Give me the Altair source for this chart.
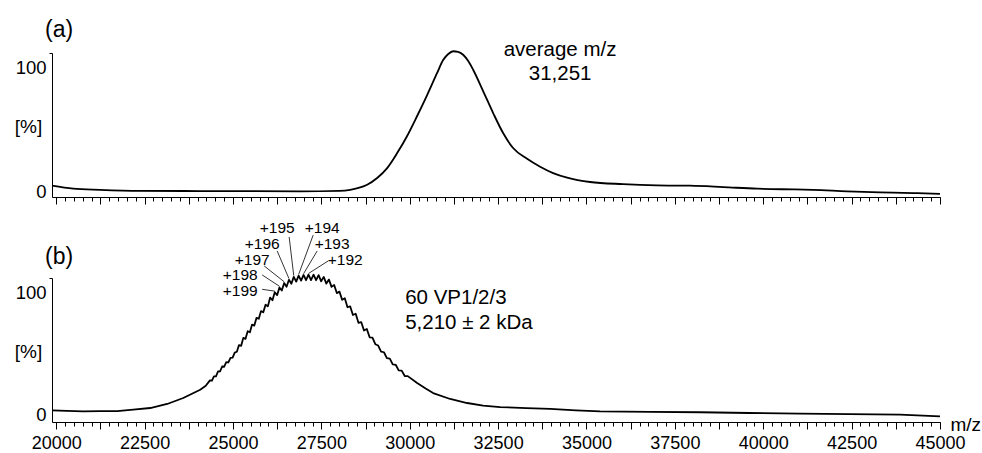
import altair as alt
import pandas as pd

FONT = "Liberation Sans"

# ---------------- panel (a): average m/z spectrum ----------------
A_MZ = [19880, 20480, 21240, 22380, 24070, 26900, 28000, 28314, 28550, 28795,
        29078, 29361, 29644, 29926, 30209, 30492, 30775, 30944, 31090, 31227,
        31370, 31510, 31650, 31793, 32076, 32359, 32641, 32924, 33320, 33688,
        34056, 34452, 35102, 36035, 36997, 37930, 38863, 39825, 40843, 41408,
        42370, 43303, 44236, 45000]
A_INT = [4.3, 1.9, 1.0, 0.2, 0.0, -0.2, 0.2, 1.0, 2.5, 5.1,
         10.5, 18.5, 30.6, 44.4, 60.5, 77.4, 95.2, 105.6, 110.5, 112.7,
         112.3, 109.9, 105.0, 97.8, 80.6, 62.9, 46.8, 34.7, 26.0, 19.6,
         14.5, 10.8, 7.3, 5.6, 4.6, 4.3, 3.2, 1.9, 1.3, 1.0,
         -0.2, -1.0, -1.6, -2.2]

# ---------------- panel (b): charge-state resolved spectrum ----------------
B_MZ = [19880, 20300, 20764, 21240, 21725, 22178, 22658, 23139, 23592, 24072, 24230,
        24347, 24404, 24461, 24518, 24576, 24634, 24693, 24751, 24810, 24869,
        24929, 24989, 25049, 25109, 25170, 25231, 25292, 25354, 25416, 25478,
        25540, 25603, 25666, 25729, 25793, 25857, 25921, 25986, 26051, 26116,
        26182, 26248, 26314, 26381, 26448, 26515, 26583, 26651, 26719, 26788,
        26857, 26926, 26996, 27066, 27136, 27207, 27279, 27350, 27422, 27494,
        27567, 27640, 27714, 27788, 27862, 27937, 28012, 28087, 28163, 28239,
        28316, 28393, 28471, 28549, 28627, 28706, 28786, 28865, 28945, 29026,
        29107, 29189, 29271, 29353, 29436, 29519, 29603, 29687, 29772, 29858,
        29944, 30209, 30450, 30662, 31143, 31623, 32076, 32557, 33300, 33971,
        34700, 35385, 36800, 38213, 39600, 41041, 42450, 43869, 45000]
B_INT = [3.6, 3.1, 2.8, 3.0, 3.0, 4.1, 5.5, 8.8, 13.7, 20.5, 23.8,
         28.2, 27.9, 31.5, 31.5, 35.5, 35.6, 39.6, 39.4, 43.1, 42.9,
         46.7, 46.9, 51.0, 51.7, 57.2, 56.6, 63.1, 62.3, 68.6, 67.7,
         74.0, 73.2, 79.6, 78.8, 85.1, 84.1, 90.3, 89.0, 96.2, 94.0,
         100.6, 98.2, 104.5, 102.0, 108.2, 105.1, 110.8, 107.6, 113.2, 109.3,
         114.2, 110.1, 114.8, 110.5, 115.0, 110.6, 115.0, 110.5, 114.7, 109.6,
         113.2, 107.7, 111.0, 105.0, 106.6, 99.9, 101.1, 94.4, 95.7, 88.3,
         88.9, 81.9, 82.9, 75.5, 76.1, 69.2, 70.4, 63.6, 63.4, 57.9,
         56.8, 51.9, 51.3, 46.5, 46.1, 41.4, 41.0, 36.4, 36.2, 31.8,
         31.7, 26.0, 21.5, 17.8, 12.9, 9.6, 7.4, 6.3, 5.4, 4.7,
         3.6, 2.8, 2.4, 2.0, 1.4, 0.8, 0.4, 0.0, -1.3]

# charge-state annotations
CHARGES = ["+199", "+198", "+197", "+196", "+195", "+194", "+193", "+192"]
CH_PEAK_MZ = [26182, 26314, 26448, 26583, 26719, 26857, 26996, 27136]
CH_PEAK_INT = [101.5, 105.5, 109.2, 111.8, 114.2, 115.2, 115.8, 116.0]
CH_LEAD_MZ = [25826, 25826, 25882, 26250, 26589, 27268, 27381, 27692]
CH_LEAD_INT = [103.0, 114.8, 122.2, 134.5, 146.0, 147.5, 134.5, 126.3]
CH_LABEL_MZ = [25204, 25204, 25543, 25826, 26250, 27523, 27805, 28173]
CH_LABEL_INT = [102.0, 114.5, 127.2, 140.2, 153.2, 153.2, 140.2, 127.2]

NOTE_A = ["average m/z", "31,251"]
NOTE_A_MZ = [34253, 34253]
NOTE_A_INT = [113.7, 94.4]
NOTE_B = ["60 VP1/2/3", "5,210 ± 2 kDa"]
NOTE_B_MZ = [29870, 29870]
NOTE_B_INT = [95.9, 75.3]

MINOR_TICKS = list(range(20000, 45001, 250))
MAJOR_TICKS = list(range(20000, 45001, 1250))
X_DOMAIN = [19880, 45000]
YA_DOMAIN = [-4.8, 111.3]
YB_DOMAIN = [-6.0, 112.3]

xs = alt.Scale(domain=X_DOMAIN, nice=False, zero=False)


def x_minor_axis():
    return alt.Axis(values=MINOR_TICKS, tickSize=4, labels=False, domain=True,
                    title=None, orient="bottom", grid=False, tickColor="black",
                    domainColor="black", tickWidth=1, domainWidth=1)


def x_major_axis(show):
    kw = dict(values=MAJOR_TICKS, tickSize=7, labels=show, domain=False,
              orient="bottom", grid=False, tickColor="black", tickWidth=1,
              format="d", labelExpr="datum.value % 2500 === 0 ? datum.label : ''",
              labelFontSize=18, labelPadding=5, labelFlush=False,
              labelOverlap=False, labelColor="black")
    if show:
        kw.update(title="m/z", titleX=898, titleY=2, titleAlign="left",
                  titleBaseline="middle", titleFontSize=19,
                  titleFontWeight="normal", titleColor="black")
    else:
        kw.update(title=None)
    return alt.Axis(**kw)


def y_axis(ymax, title_y):
    return alt.Axis(values=[0, 100, ymax],
                    labelExpr="datum.value > 105 ? '' : datum.label",
                    tickSize=3,
                    tickOpacity={"condition": {"test": "datum.value > 105", "value": 1}, "value": 0},
                    labelPadding=3, labelFontSize=18.5, labelColor="black",
                    labelOverlap=False, labelFlush=False,
                    domainColor="black", tickColor="black", grid=False,
                    title="[%]", titleAngle=0, titleX=-24, titleY=title_y,
                    titleAlign="center", titleBaseline="middle", titleFontSize=19,
                    titleFontWeight="normal", titleColor="black")


def panel(mz, inten, ydom, title_y, notes, notes_align, show_labels, letter, letter_y,
          interp="linear", extra=None):
    Y = alt.Y("int:Q", scale=alt.Scale(domain=ydom, nice=False, zero=False),
              axis=y_axis(ydom[1], title_y))
    curve = alt.Chart(pd.DataFrame({"mz": mz, "int": inten})).mark_line(
        color="black", strokeWidth=1.8, strokeJoin="round", interpolate=interp
    ).encode(x=alt.X("mz:Q", scale=xs, axis=x_minor_axis()), y=Y)
    notes_df = pd.DataFrame({"mz": notes[1], "int": notes[2], "t": notes[0]})
    note_layer = alt.Chart(notes_df).mark_text(
        align=notes_align, baseline="middle", fontSize=20.5, color="black"
    ).encode(x=alt.X("mz:Q", scale=xs, axis=x_major_axis(show_labels)), y=Y, text="t:N")
    letter_layer = alt.Chart(pd.DataFrame({"t": [letter]})).mark_text(
        align="left", baseline="middle", fontSize=23, color="black"
    ).encode(x=alt.value(-7), y=alt.value(letter_y), text="t:N")
    layers = [curve, note_layer, letter_layer]
    if extra is not None:
        layers += extra(Y)
    return alt.layer(*layers).resolve_axis(x="independent").properties(width=888, height=144)


def charge_layers(Y):
    lead = pd.DataFrame({"mz": CH_PEAK_MZ, "int": CH_PEAK_INT,
                         "mz2": CH_LEAD_MZ, "int2": CH_LEAD_INT})
    rules = alt.Chart(lead).mark_rule(color="black", strokeWidth=0.8).encode(
        x=alt.X("mz:Q", scale=xs, axis=None), y=Y, x2="mz2:Q", y2="int2:Q")
    lab = pd.DataFrame({"mz": CH_LABEL_MZ, "int": CH_LABEL_INT, "t": CHARGES})
    texts = alt.Chart(lab).mark_text(align="center", baseline="middle", fontSize=15.5,
                                     color="black").encode(
        x=alt.X("mz:Q", scale=xs, axis=None), y=Y, text="t:N")
    return [rules, texts]


top = panel(A_MZ, A_INT, YA_DOMAIN, 73, (NOTE_A, NOTE_A_MZ, NOTE_A_INT), "center",
            False, "(a)", -23, interp="monotone")
bottom = panel(B_MZ, B_INT, YB_DOMAIN, 73, (NOTE_B, NOTE_B_MZ, NOTE_B_INT), "left",
               True, "(b)", -21, extra=charge_layers)

chart = alt.vconcat(top, bottom, spacing=81, bounds="flush").properties(
    padding={"left": 14, "top": 19, "right": 0, "bottom": 0}
).configure(font=FONT).configure_view(stroke=None)

chart.save("out.html", embed_options={"renderer": "svg", "actions": False})
